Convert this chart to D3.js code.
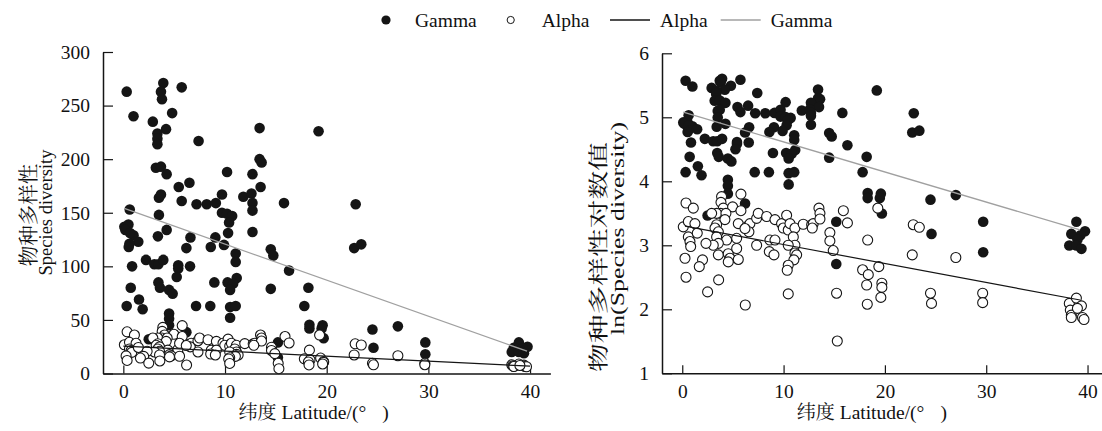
<!DOCTYPE html>
<html><head><meta charset="utf-8">
<script src="https://cdn.jsdelivr.net/npm/d3@7/dist/d3.min.js"></script>
<style>
body{margin:0;background:#fff;}
svg text{font-family:"Liberation Serif","Times New Roman",serif;fill:#111;}
.cjk{font-family:"Noto Serif CJK SC","Noto Sans CJK SC",sans-serif;}
</style></head>
<body><svg id="c" width="1102" height="431"></svg>
<script>
// ---- data: [latitude, species diversity]
const gammaPoints = [
[0.33,263],[3.93,271],[3.7,263],[3.8,256],[5.74,267],[1.0,240],[4.8,243],[2.9,235],[4.2,228],[3.35,224],[3.35,219],[3.35,214],[7.4,217],[13.4,229],[19.2,226],
[3.2,192],[3.7,193],[4.26,186],[13.4,200],[13.6,197],[10.2,188],[12.7,186],[5.45,174],[6.5,178],[13.5,174],
[3.5,164],[3.7,167],[5.74,161],[7.2,158],[8.2,158],[9.1,159],[9.7,167],[11.8,165],[12.6,168],[12.7,159],[12.7,152],[15.8,159],
[0.63,153],[3.5,148],[9.7,150],[10.2,149],[10.7,147],[10.4,141],
[0.1,137],[0.5,139],[1.0,129],[4.26,134],[3.4,128],[6.6,127],[9.05,127],[10.3,131],[12.7,132],
[0.2,134],[0.66,131],[1.47,123],[0.6,121],[0.53,118],
[9.9,120],[8.6,118],[6.2,117],[11.05,112],[11.05,104],[14.5,116],[14.75,110],[16.3,96],
[2.23,106],[3.05,102],[3.45,102],[3.93,106],[0.86,100],[5.4,101],[5.4,98],[6.56,100],[5.25,90],
[3.45,85],[3.6,80],[4.5,78],[4.85,74.5],[0.73,80],[8.95,85],[10.25,85],[11.15,89],[10.8,84],[10.5,78],[14.5,79],[18.2,80],
[1.54,69],[0.33,63],[1.9,60],[7.15,63],[8.55,63],[10.5,62],[11.05,63],[17.8,63],
[4.5,56],[4.5,51],[4.5,45],[10.5,52],[18.3,45.5],[18.3,42],[19.6,45],[19.5,42],[19.7,33],
[2.5,32],[6.2,38.6],[15.2,29],[15.2,15],
[22.85,158],[22.7,117],[23.4,120.5],[24.5,41],[24.6,24],[27.0,44],[29.7,29],[29.7,18],
[38.9,29],[39.75,25],[38.4,24],[39.3,23.5],[39.0,22],[38.2,20],[38.9,20],[39.4,19]
];
const alphaPoints = [
[3.88,43],[3.82,39.3],[4.05,35.9],[4.97,36.6],[5.79,44.7],[5.79,34.5],[3.79,33.1],[3.39,33.1],[2.9,33.1],[4.31,33.1],[4.21,30.0],[3.39,27.7],[3.23,26.3],[3.56,24.8],[3.39,22.9],[4.38,21.8],[3.56,20.7],[3.06,20.1],[3.56,17.3],[4.54,17.6],[5.37,19.1],[5.37,22.4],[4.71,16.4],[4.54,15.5],[5.53,16.1],[5.53,28.2],[6.35,26.8],[6.68,28.2],[6.58,24.8],[7.34,30.6],[7.5,33.1],[8.33,31.5],[7.34,20.1],[6.19,26.1],
[0.37,38.9],[1.09,35.9],[0.1,26.8],[0.6,29.1],[1.25,28.2],[0.6,22.9],[0.76,21.3],[0.83,19.7],[1.48,24.3],[2.34,20.7],[0.27,16.4],[2.0,16.0],[1.68,14.4],[0.37,12.2],[2.5,9.7],[3.59,11.7],[6.22,7.9],
[9.15,30.0],[9.8,28.2],[10.3,32.1],[9.97,26.3],[10.46,25.5],[10.63,28.2],[11.12,26.3],[10.96,22.9],[11.12,20.1],[10.46,20.1],[11.12,17.8],[11.29,17.3],[11.02,16.0],[10.46,14.7],[10.36,13.6],[8.65,21.8],[9.15,21.8],[8.59,18.2],[9.05,17.3],[10.46,9.4],
[11.94,27.9],[12.77,27.7],[12.93,28.2],[13.49,35.9],[13.59,33.1],[13.59,30.3],[12.83,26.3],
[14.57,24.5],[14.57,21.5],[14.9,18.5],[15.9,34.5],[16.3,28.5],[15.23,9.5],[15.3,4.5],
[18.3,21.8],[17.8,13.7],[18.36,12.7],[18.2,10.8],[18.26,8.0],[19.4,14.4],[19.7,11.1],[19.7,10.4],[19.6,8.9],[19.3,35.9],
[22.8,27.7],[23.4,26.6],[22.7,17.3],[24.5,9.5],[24.6,8.1],[27.0,16.6],[29.65,9.5],[29.65,8.2],
[38.2,8.1],[38.9,8.8],[39.4,7.8],[38.3,7.3],[38.4,6.75],[38.4,6.5],[39.5,6.5],[39.65,6.3],[39.0,7.5]
];
// fitted lines: [lat, value]
const fitGammaLeft = [[0.1,154],[39.7,20.8]];
const fitAlphaLeft = [[0,25.5],[40,6.8]];
const fitGammaRight = [[0.1,5.08],[39.26,3.24]];
const fitAlphaRight = [[0.27,3.30],[39.26,2.145]];
const xTicks = [0,10,20,30,40];
const yTicksLeft = [0,50,100,150,200,250,300];
const yTicksRight = [1,2,3,4,5,6];
const legendItems = [
 {type:"filled", label:"Gamma"},
 {type:"open", label:"Alpha"},
 {type:"lineBlack", label:"Alpha"},
 {type:"lineGray", label:"Gamma"}
];

const svg = d3.select("#c");
const FS = 19.5;
const black = "#151515", gray = "#a0a0a0";

function panel(cfg){
  const {x, y, gammaY, alphaY, fitG, fitA, yTicks, t1, t2} = cfg;
  const g = svg.append("g");
  const y0 = y(y.domain()[0]);
  const xa = g.append("g").attr("transform",`translate(0,${y0})`)
    .call(d3.axisBottom(x).tickValues(xTicks).tickFormat(d3.format("d")).tickSizeInner(-8).tickSizeOuter(0).tickPadding(11));
  const ya = g.append("g").attr("transform",`translate(${x(-2)},0)`)
    .call(d3.axisLeft(y).tickValues(yTicks).tickFormat(d3.format("d")).tickSizeInner(-10).tickSizeOuter(0).tickPadding(13));
  [xa,ya].forEach(a=>{
    a.select(".domain").attr("stroke",black).attr("stroke-width",1.5);
    a.selectAll(".tick line").attr("stroke",black).attr("stroke-width",1.2);
    a.selectAll(".tick text").attr("font-size",FS).attr("fill",black)
      .attr("font-family","Liberation Serif, serif");
  });
  // points
  g.append("g").selectAll("circle").data(gammaPoints).join("circle")
    .attr("cx",d=>x(d[0])).attr("cy",d=>y(gammaY(d[1]))).attr("r",5.3)
    .attr("fill",black);
  g.append("g").selectAll("circle").data(alphaPoints).join("circle")
    .attr("cx",d=>x(d[0])).attr("cy",d=>y(alphaY(d[1]))).attr("r",5)
    .attr("fill","#fff").attr("stroke",black).attr("stroke-width",1.1);
  const line = d3.line().x(d=>x(d[0])).y(d=>y(d[1]));
  g.append("path").attr("d",line(fitA)).attr("stroke",black).attr("stroke-width",1.2).attr("fill","none");
  g.append("path").attr("d",line(fitG)).attr("stroke",gray).attr("stroke-width",1.3).attr("fill","none");
  // x axis title
  const xt = g.append("text").attr("x",x(19.5)-83).attr("y",419).attr("font-size",FS);
  xt.append("tspan").attr("class","cjk").attr("font-size",19).text("纬度");
  xt.append("tspan").text(" Latitude/(°");
  xt.append("tspan").attr("dx",16).text(")");
  // y axis titles
  const a1 = g.append("text").attr("class","cjk").attr("transform",`translate(${t1.x},${t1.cy}) rotate(-90)`)
    .attr("text-anchor","middle").attr("dominant-baseline","central").attr("font-size",20.5).text(t1.text);
  if(t1.len) a1.attr("textLength",t1.len).attr("lengthAdjust","spacingAndGlyphs");
  const a2 = g.append("text").attr("transform",`translate(${t2.x},${t2.cy}) rotate(-90)`)
    .attr("text-anchor","middle").attr("dominant-baseline","central").attr("font-size",18.5).text(t2.text);
  if(t2.len) a2.attr("textLength",t2.len).attr("lengthAdjust","spacingAndGlyphs");
}

const xL = d3.scaleLinear().domain([-2,42]).range([103,550.4]);
const yL = d3.scaleLinear().domain([0,300]).range([373.5,52]);
const xR = d3.scaleLinear().domain([-2,42]).range([662,1107.8]);
const yR = d3.scaleLinear().domain([1,6]).range([373.3,53.3]);

panel({x:xL,y:yL,gammaY:v=>v,alphaY:v=>v,fitG:fitGammaLeft,fitA:fitAlphaLeft,yTicks:yTicksLeft,
  t1:{text:"物种多样性",x:26.5,cy:215},t2:{text:"Species diversity",x:46,cy:212.5}});
panel({x:xR,y:yR,gammaY:v=>Math.log(v),alphaY:v=>Math.log(v),fitG:fitGammaRight,fitA:fitAlphaRight,yTicks:yTicksRight,
  t1:{text:"物种多样性对数值",x:596.5,cy:257,len:230},t2:{text:"ln(Species diversity)",x:618,cy:228.5,len:213}});

// legend
const legX = [386, 510.7, 610, 720.7];
const legY = 20;
const lg = svg.append("g");
legendItems.forEach((it,i)=>{
  const x0 = legX[i];
  let tx;
  if(it.type==="filled"){ lg.append("circle").attr("cx",x0).attr("cy",legY).attr("r",4.6).attr("fill",black); tx=x0+29; }
  else if(it.type==="open"){ lg.append("circle").attr("cx",x0).attr("cy",legY).attr("r",3.6).attr("fill","#fff").attr("stroke",black).attr("stroke-width",1); tx=x0+31; }
  else { lg.append("line").attr("x1",x0).attr("x2",x0+40).attr("y1",legY).attr("y2",legY)
    .attr("stroke",it.type==="lineBlack"?black:gray).attr("stroke-width",1.3); tx=x0+50; }
  lg.append("text").attr("x",tx).attr("y",legY).attr("dominant-baseline","central").attr("font-size",FS).text(it.label);
});
</script></body></html>
